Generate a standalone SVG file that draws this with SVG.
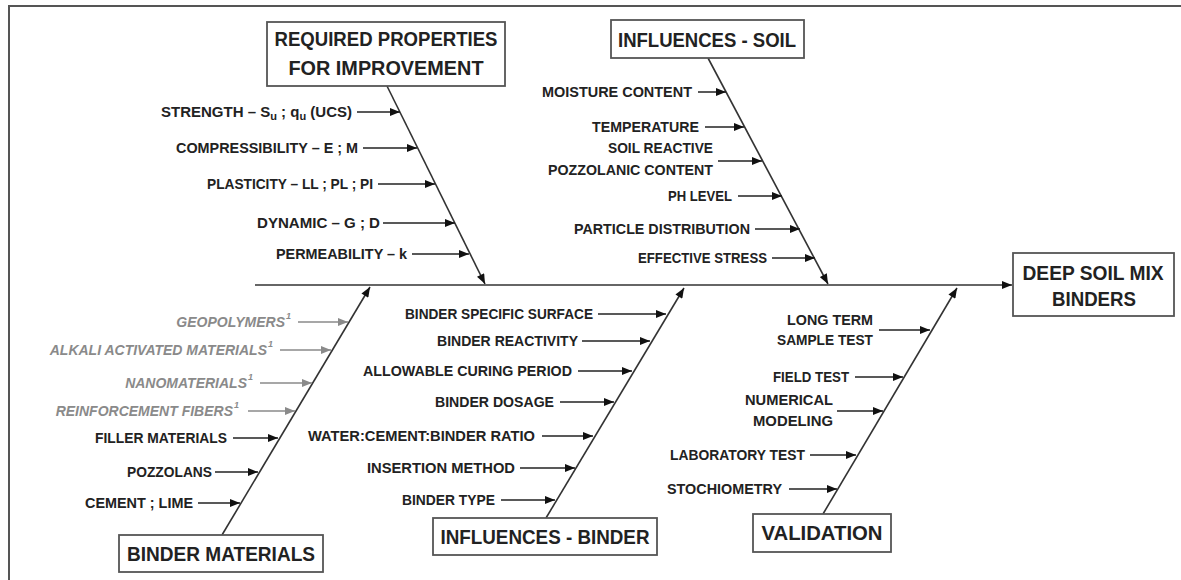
<svg xmlns="http://www.w3.org/2000/svg" width="1181" height="580" viewBox="0 0 1181 580">
<style>
.bg{fill:#fff}
.frame{fill:none;stroke:#555;stroke-width:2}
.box{fill:#fff;stroke:#555;stroke-width:1.8}
.bt{font-family:"Liberation Sans",Arial,sans-serif;font-weight:bold;font-size:21px;fill:#222;text-anchor:middle}
.lb{font-family:"Liberation Sans",Arial,sans-serif;font-weight:bold;font-size:15px;fill:#222;text-anchor:end}
.gl{font-family:"Liberation Sans",Arial,sans-serif;font-weight:bold;font-style:italic;font-size:14px;fill:#8a8a8a;text-anchor:end}
.sup{font-size:9px}
.ln{fill:none;stroke:#222;stroke-width:1.5;marker-end:url(#ah)}
.lg{fill:none;stroke:#8a8a8a;stroke-width:1.5;marker-end:url(#ahg)}
.bone{fill:none;stroke:#333;stroke-width:1.6;marker-end:url(#ah)}
</style>
<defs>
<marker id="ah" viewBox="0 0 10 8" refX="10" refY="4" markerWidth="11" markerHeight="8" orient="auto" markerUnits="userSpaceOnUse"><path d="M0,0 L10,4 L0,8 z" fill="#111"/></marker>
<marker id="ahg" viewBox="0 0 10 8" refX="10" refY="4" markerWidth="11" markerHeight="8" orient="auto" markerUnits="userSpaceOnUse"><path d="M0,0 L10,4 L0,8 z" fill="#8a8a8a"/></marker>
</defs>
<rect class="bg" x="0" y="0" width="1181" height="580"/>
<path class="frame" d="M9,580 V6 H1181"/>

<g id="connectors">
<line class="bone" x1="255" y1="285" x2="1012" y2="285"/>
<line class="bone" x1="387" y1="86" x2="485" y2="284"/>
<line class="bone" x1="708" y1="58" x2="828" y2="284"/>
<line class="bone" x1="222" y1="535" x2="370" y2="287"/>
<line class="bone" x1="546" y1="518" x2="684" y2="288"/>
<line class="bone" x1="823" y1="514" x2="957" y2="288"/>
<line class="ln" x1="357" y1="112" x2="400" y2="112"/>
<line class="ln" x1="363" y1="148" x2="417" y2="148"/>
<line class="ln" x1="378" y1="184" x2="435" y2="184"/>
<line class="ln" x1="383" y1="223" x2="455" y2="223"/>
<line class="ln" x1="412" y1="254" x2="469" y2="254"/>
<line class="ln" x1="698" y1="92" x2="726" y2="92"/>
<line class="ln" x1="705" y1="127" x2="744" y2="127"/>
<line class="ln" x1="718" y1="161" x2="762" y2="161"/>
<line class="ln" x1="738" y1="196" x2="782" y2="196"/>
<line class="ln" x1="755" y1="229" x2="800" y2="229"/>
<line class="ln" x1="772" y1="258" x2="815" y2="258"/>
<line class="lg" x1="298" y1="322" x2="348" y2="322"/>
<line class="lg" x1="280" y1="350" x2="331" y2="350"/>
<line class="lg" x1="260" y1="383" x2="312" y2="383"/>
<line class="lg" x1="248" y1="411" x2="295" y2="411"/>
<line class="ln" x1="233" y1="438" x2="278" y2="438"/>
<line class="ln" x1="215" y1="472" x2="258" y2="472"/>
<line class="ln" x1="198" y1="503" x2="240" y2="503"/>
<line class="ln" x1="598" y1="314" x2="666" y2="314"/>
<line class="ln" x1="582" y1="341" x2="650" y2="341"/>
<line class="ln" x1="578" y1="371" x2="632" y2="371"/>
<line class="ln" x1="560" y1="402" x2="614" y2="402"/>
<line class="ln" x1="542" y1="436" x2="593" y2="436"/>
<line class="ln" x1="520" y1="468" x2="575" y2="468"/>
<line class="ln" x1="501" y1="500" x2="555" y2="500"/>
<line class="ln" x1="879" y1="330" x2="930" y2="330"/>
<line class="ln" x1="855" y1="377" x2="903" y2="377"/>
<line class="ln" x1="837" y1="411" x2="883" y2="411"/>
<line class="ln" x1="810" y1="455" x2="856" y2="455"/>
<line class="ln" x1="789" y1="489" x2="837" y2="489"/>
</g>

<g id="node-required">
<rect class="box" x="267" y="22" width="238" height="64"/>
<text class="bt" x="386" y="46" textLength="223" lengthAdjust="spacingAndGlyphs">REQUIRED PROPERTIES</text>
<text class="bt" x="386" y="75" textLength="195" lengthAdjust="spacingAndGlyphs">FOR IMPROVEMENT</text>
</g>
<g id="node-soil">
<rect class="box" x="611" y="20" width="193" height="38"/>
<text class="bt" x="707" y="47" textLength="178" lengthAdjust="spacingAndGlyphs">INFLUENCES - SOIL</text>
</g>
<g id="node-main">
<rect class="box" x="1013" y="253" width="161" height="63"/>
<text class="bt" x="1093" y="280" textLength="141" lengthAdjust="spacingAndGlyphs">DEEP SOIL MIX</text>
<text class="bt" x="1094" y="306" textLength="84" lengthAdjust="spacingAndGlyphs">BINDERS</text>
</g>
<g id="node-bindermat">
<rect class="box" x="119" y="535" width="204" height="37"/>
<text class="bt" x="221" y="561" textLength="188" lengthAdjust="spacingAndGlyphs">BINDER MATERIALS</text>
</g>
<g id="node-binder">
<rect class="box" x="433" y="518" width="224" height="37"/>
<text class="bt" x="545" y="544" textLength="209" lengthAdjust="spacingAndGlyphs">INFLUENCES - BINDER</text>
</g>
<g id="node-validation">
<rect class="box" x="753" y="514" width="138" height="38"/>
<text class="bt" x="822" y="540" textLength="121" lengthAdjust="spacingAndGlyphs">VALIDATION</text>
</g>

<g id="labels-required">
<g id="l-strength"><text class="lb" x="352" y="117" font-size="14">STRENGTH – S<tspan font-size="11" dy="3">u</tspan><tspan dy="-3"> ; q</tspan><tspan font-size="11" dy="3">u</tspan><tspan dy="-3"> (UCS)</tspan></text></g>
<g id="l-compress"><text class="lb" x="358" y="153" textLength="182" lengthAdjust="spacingAndGlyphs">COMPRESSIBILITY – E ; M</text></g>
<g id="l-plastic"><text class="lb" x="373" y="189" textLength="166" lengthAdjust="spacingAndGlyphs">PLASTICITY – LL ; PL ; PI</text></g>
<g id="l-dynamic"><text class="lb" x="380" y="228" textLength="123" lengthAdjust="spacingAndGlyphs">DYNAMIC – G ; D</text></g>
<g id="l-perm"><text class="lb" x="407" y="259" textLength="131" lengthAdjust="spacingAndGlyphs">PERMEABILITY – k</text></g>
</g>

<g id="labels-soil">
<g id="l-moisture"><text class="lb" x="692" y="97" textLength="150" lengthAdjust="spacingAndGlyphs">MOISTURE CONTENT</text></g>
<g id="l-temp"><text class="lb" x="699" y="132" textLength="107" lengthAdjust="spacingAndGlyphs">TEMPERATURE</text></g>
<g id="l-pozz"><text class="lb" x="713" y="153" textLength="105" lengthAdjust="spacingAndGlyphs">SOIL REACTIVE</text>
<text class="lb" x="713" y="175" textLength="165" lengthAdjust="spacingAndGlyphs">POZZOLANIC CONTENT</text></g>
<g id="l-ph"><text class="lb" x="732" y="201" textLength="64" lengthAdjust="spacingAndGlyphs">PH LEVEL</text></g>
<g id="l-particle"><text class="lb" x="750" y="234" textLength="176" lengthAdjust="spacingAndGlyphs">PARTICLE DISTRIBUTION</text></g>
<g id="l-stress"><text class="lb" x="767" y="263" textLength="129" lengthAdjust="spacingAndGlyphs">EFFECTIVE STRESS</text></g>
</g>

<g id="labels-bindermat">
<g id="l-geo"><text class="gl" x="291" y="327">GEOPOLYMERS<tspan class="sup" dx="1" dy="-8">1</tspan></text></g>
<g id="l-alkali"><text class="gl" x="273" y="355">ALKALI ACTIVATED MATERIALS<tspan class="sup" dx="1" dy="-8">1</tspan></text></g>
<g id="l-nano"><text class="gl" x="253" y="388">NANOMATERIALS<tspan class="sup" dx="1" dy="-8">1</tspan></text></g>
<g id="l-fibers"><text class="gl" x="239" y="416">REINFORCEMENT FIBERS<tspan class="sup" dx="1" dy="-8">1</tspan></text></g>
<g id="l-filler"><text class="lb" x="227" y="443" textLength="132" lengthAdjust="spacingAndGlyphs">FILLER MATERIALS</text></g>
<g id="l-pozzolans"><text class="lb" x="212" y="477" textLength="85" lengthAdjust="spacingAndGlyphs">POZZOLANS</text></g>
<g id="l-cement"><text class="lb" x="193" y="508" textLength="108" lengthAdjust="spacingAndGlyphs">CEMENT ; LIME</text></g>
</g>

<g id="labels-binder">
<g id="l-surface"><text class="lb" x="593" y="319" textLength="188" lengthAdjust="spacingAndGlyphs">BINDER SPECIFIC SURFACE</text></g>
<g id="l-reactivity"><text class="lb" x="578" y="346" textLength="141" lengthAdjust="spacingAndGlyphs">BINDER REACTIVITY</text></g>
<g id="l-curing"><text class="lb" x="572" y="376" textLength="209" lengthAdjust="spacingAndGlyphs">ALLOWABLE CURING PERIOD</text></g>
<g id="l-dosage"><text class="lb" x="554" y="407" textLength="119" lengthAdjust="spacingAndGlyphs">BINDER DOSAGE</text></g>
<g id="l-ratio"><text class="lb" x="535" y="441" textLength="227" lengthAdjust="spacingAndGlyphs">WATER:CEMENT:BINDER RATIO</text></g>
<g id="l-insertion"><text class="lb" x="515" y="473" textLength="148" lengthAdjust="spacingAndGlyphs">INSERTION METHOD</text></g>
<g id="l-type"><text class="lb" x="495" y="505" textLength="93" lengthAdjust="spacingAndGlyphs">BINDER TYPE</text></g>
</g>

<g id="labels-validation">
<g id="l-longterm"><text class="lb" x="873" y="325" textLength="86" lengthAdjust="spacingAndGlyphs">LONG TERM</text>
<text class="lb" x="873" y="345" textLength="96" lengthAdjust="spacingAndGlyphs">SAMPLE TEST</text></g>
<g id="l-field"><text class="lb" x="849" y="382" textLength="76" lengthAdjust="spacingAndGlyphs">FIELD TEST</text></g>
<g id="l-numerical"><text class="lb" x="833" y="405" textLength="88" lengthAdjust="spacingAndGlyphs">NUMERICAL</text>
<text class="lb" x="833" y="426" textLength="80" lengthAdjust="spacingAndGlyphs">MODELING</text></g>
<g id="l-lab"><text class="lb" x="805" y="460" textLength="135" lengthAdjust="spacingAndGlyphs">LABORATORY TEST</text></g>
<g id="l-stoch"><text class="lb" x="782" y="494" textLength="115" lengthAdjust="spacingAndGlyphs">STOCHIOMETRY</text></g>
</g>
</svg>
